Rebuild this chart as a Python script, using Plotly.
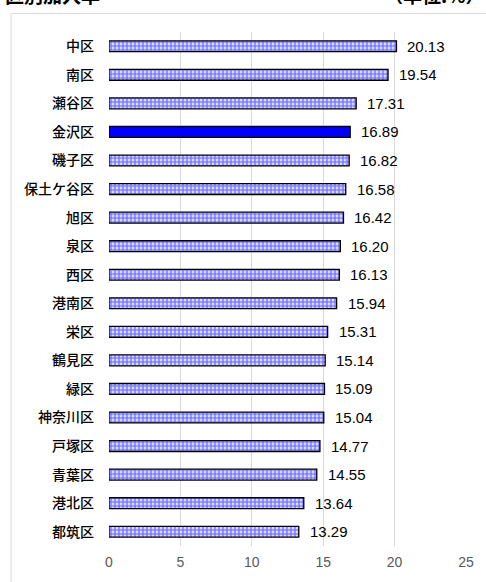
import plotly.graph_objects as go

# 区別加入率 (単位:%)
wards = ["中区", "南区", "瀬谷区", "金沢区", "磯子区", "保土ケ谷区", "旭区", "泉区", "西区",
         "港南区", "栄区", "鶴見区", "緑区", "神奈川区", "戸塚区", "青葉区", "港北区", "都筑区"]
rates = [20.13, 19.54, 17.31, 16.89, 16.82, 16.58, 16.42, 16.20, 16.13,
         15.94, 15.31, 15.14, 15.09, 15.04, 14.77, 14.55, 13.64, 13.29]
highlight = "金沢区"
x_ticks = [0, 5, 10, 15, 20, 25]

W, H = 486, 582
L, R, T, B = 109, 18, 32, 34
pw, ph = W - L - R, H - T - B

def px_x(p):
    return (p - L) / pw

def px_y(p):
    return (H - B - p) / ph

other_w = [w for w in wards if w != highlight]
other_v = [v for w, v in zip(wards, rates) if w != highlight]
hl_v = [v for w, v in zip(wards, rates) if w == highlight]

fig = go.Figure()
# dotted bars for every other ward
fig.add_trace(go.Bar(
    x=other_v, y=other_w, orientation="h",
    marker=dict(color="#ffffff", line=dict(color="#000000", width=1.3),
                pattern=dict(shape=".", fgcolor="#0000ff", size=4, solidity=0.72,
                             fillmode="overlay")),
    width=0.38, hoverinfo="skip",
))
# solid blue bar for the highlighted ward
fig.add_trace(go.Bar(
    x=hl_v, y=[highlight], orientation="h",
    marker=dict(color="#0000ff", line=dict(color="#000000", width=1.3)),
    width=0.38, hoverinfo="skip",
))

# value labels just past each bar end
annotations = [
    dict(x=v, y=w, xref="x", yref="y", text=f"{v:.2f}", showarrow=False,
         xanchor="left", yanchor="middle", xshift=9,
         font=dict(family="Liberation Sans, Arial", size=15, color="#000000"))
    for w, v in zip(wards, rates)
]
annotations += [
    dict(text="<b>区別加入率</b>", xref="paper", yref="paper", x=px_x(2), y=px_y(10),
         xanchor="left", yanchor="bottom", showarrow=False,
         font=dict(family="Noto Sans CJK JP", size=19, color="#000000")),
    dict(text="<b>（単位:%）</b>", xref="paper", yref="paper", x=px_x(384), y=px_y(10),
         xanchor="left", yanchor="bottom", showarrow=False,
         font=dict(family="Noto Sans CJK JP", size=19, color="#000000")),
]

fig.update_layout(
    width=W, height=H,
    margin=dict(l=L, r=R, t=T, b=B),
    paper_bgcolor="#ffffff", plot_bgcolor="#ffffff",
    showlegend=False, barmode="overlay",
    xaxis=dict(range=[0, 25], tickvals=x_ticks, showgrid=True, gridcolor="#d9d9d9",
               gridwidth=1, zeroline=False, showline=False, ticks="",
               tickfont=dict(family="Liberation Sans, Arial", size=14, color="#595959"),
               ticklabelstandoff=6),
    yaxis=dict(categoryorder="array", categoryarray=wards[::-1], autorange=True,
               showgrid=False, zeroline=False, showline=False, ticks="",
               tickfont=dict(family="Noto Sans CJK JP", size=14, color="#000000", weight=500),
               ticklabelstandoff=14),
    shapes=[dict(type="rect", xref="paper", yref="paper",
                 x0=px_x(10.5), x1=px_x(W + 20), y0=px_y(H + 20), y1=px_y(13.5),
                 line=dict(color="#d9d9d9", width=1), fillcolor="rgba(0,0,0,0)",
                 layer="below")],
    annotations=annotations,
)

fig.write_html("out.html")
